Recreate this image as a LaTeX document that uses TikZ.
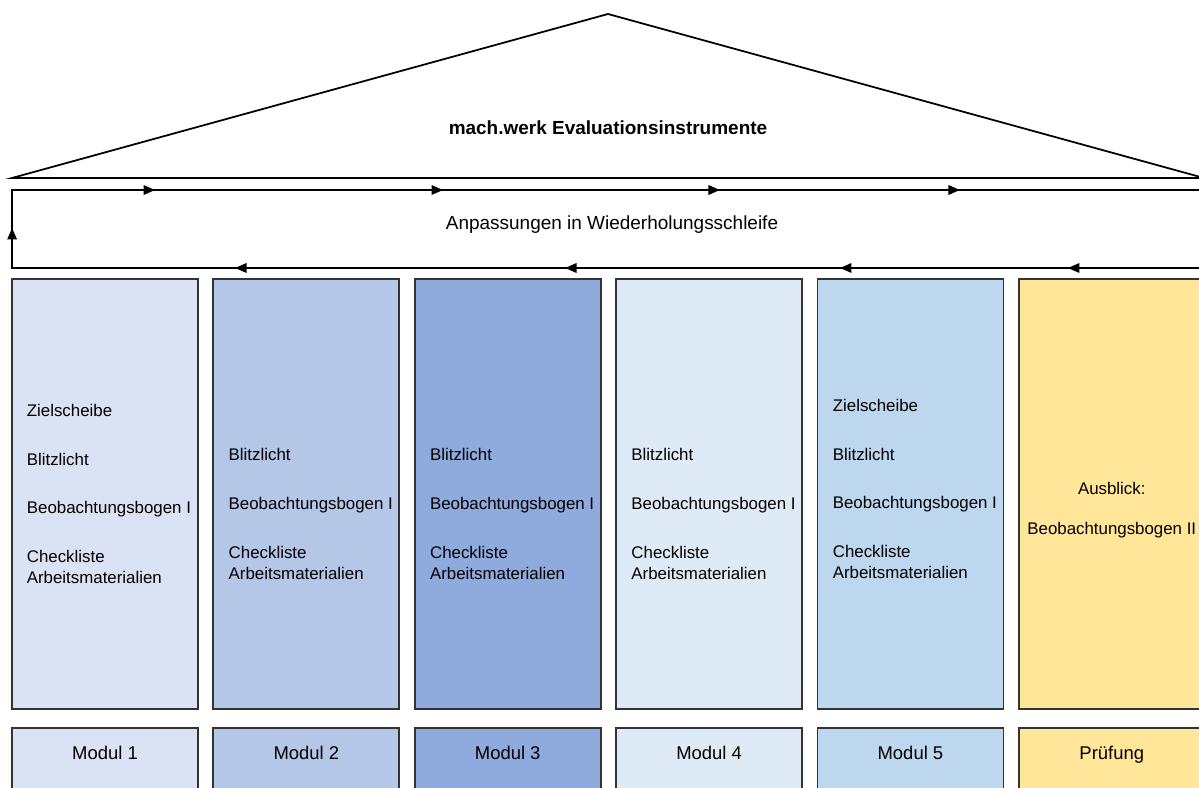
\documentclass[tikz,border=0pt]{standalone}
\usepackage{fontspec}
\setmainfont{Liberation Sans}
\usetikzlibrary{arrows.meta,positioning,decorations.markings}

\definecolor{modA}{HTML}{DAE3F3}
\definecolor{modB}{HTML}{B4C7E7}
\definecolor{modC}{HTML}{8FAADC}
\definecolor{modD}{HTML}{DEEBF7}
\definecolor{modE}{HTML}{BDD7EE}
\definecolor{exam}{HTML}{FFE699}

\tikzset{
  pillar/.style={draw=black!80, line width=1pt, outer sep=0pt, inner sep=0pt,
    minimum width=3.72cm, minimum height=8.6cm},
  footbox/.style={draw=black!80, line width=1pt, outer sep=0pt, inner sep=0pt,
    minimum width=3.72cm, minimum height=1.4cm},
  entry/.style={align=left, inner sep=0pt, font=\fontsize{9.6}{11.9}\selectfont},
  modname/.style={inner sep=0pt, text height=7.6pt, text depth=0pt,
    font=\fontsize{10.5}{12.6}\selectfont},
  looptip/.tip={Triangle[length=0.23cm, width=0.19cm]}
}

\begin{document}
\begin{tikzpicture}[x=0.02cm, y=-0.02cm, line width=1pt]
  \useasboundingbox (0,0) rectangle (1199,787);

  % roof
  \coordinate (eaveL) at (12,178);
  \coordinate (ridge) at (608,14);
  \coordinate (eaveR) at (1204,178);
  \draw (eaveL) -- (ridge) -- (eaveR) -- cycle;
  \node[font=\bfseries\fontsize{10.8}{13}\selectfont] (title) at (608,128) {mach.werk Evaluationsinstrumente};

  % loop
  \node[draw, outer sep=0pt, minimum width=24cm, minimum height=1.56cm, text depth=0.24cm,
    font=\fontsize{10.8}{13}\selectfont] (loop) at (612,229) {Anpassungen in Wiederholungsschleife};
  \path[postaction={decorate}, decoration={markings,
      mark=at position 2.88cm with {\arrow{looptip}},
      mark=at position 7.44cm with {\arrow{looptip}},
      mark=at position 12.94cm with {\arrow{looptip}},
      mark=at position 19.54cm with {\arrow{looptip}},
      mark=at position 24.8cm with {\arrow{looptip}},
      mark=at position 28.42cm with {\arrow{looptip}},
      mark=at position 34.18cm with {\arrow{looptip}},
      mark=at position 39.72cm with {\arrow{looptip}},
      mark=at position 44.52cm with {\arrow{looptip}}}]
    (loop.south east) -- (loop.south west) -- (loop.north west) -- (loop.north east);

  % pillars
  \node[pillar, fill=modA, anchor=north west] (p1) at (12,279) {};
  \node[pillar, fill=modB, right=0.308cm of p1] (p2) {};
  \node[pillar, fill=modC, right=0.308cm of p2] (p3) {};
  \node[pillar, fill=modD, right=0.308cm of p3] (p4) {};
  \node[pillar, fill=modE, right=0.308cm of p4] (p5) {};
  \node[pillar, fill=exam, right=0.308cm of p5] (p6) {};

  \node[entry, anchor=west] (t1) at ([xshift=0.28cm]p1.west)
    {Zielscheibe\\[15.9pt]Blitzlicht\\[15.9pt]Beobachtungsbogen I\\[15.9pt]Checkliste\\Arbeitsmaterialien};
  \node[entry, anchor=west] (t2) at ([xshift=0.29cm, yshift=-0.4cm]p2.west)
    {Blitzlicht\\[15.9pt]Beobachtungsbogen I\\[15.9pt]Checkliste\\Arbeitsmaterialien};
  \node[entry, anchor=west] (t3) at ([xshift=0.29cm, yshift=-0.4cm]p3.west)
    {Blitzlicht\\[15.9pt]Beobachtungsbogen I\\[15.9pt]Checkliste\\Arbeitsmaterialien};
  \node[entry, anchor=west] (t4) at ([xshift=0.29cm, yshift=-0.4cm]p4.west)
    {Blitzlicht\\[15.9pt]Beobachtungsbogen I\\[15.9pt]Checkliste\\Arbeitsmaterialien};
  \node[entry, anchor=west] (t5) at ([xshift=0.29cm, yshift=0.1cm]p5.west)
    {Zielscheibe\\[15.9pt]Blitzlicht\\[15.9pt]Beobachtungsbogen I\\[15.9pt]Checkliste\\Arbeitsmaterialien};
  \node[entry, align=center] (t6) at ([yshift=-0.32cm]p6.center)
    {Ausblick:\\[10.8pt]Beobachtungsbogen II};

  % modules
  \node[footbox, fill=modA, anchor=north west] (m1) at (12,728) {};
  \node[footbox, fill=modB, right=0.308cm of m1] (m2) {};
  \node[footbox, fill=modC, right=0.308cm of m2] (m3) {};
  \node[footbox, fill=modD, right=0.308cm of m3] (m4) {};
  \node[footbox, fill=modE, right=0.308cm of m4] (m5) {};
  \node[footbox, fill=exam, right=0.308cm of m5] (m6) {};

  \node[modname] (n1) at ([yshift=-0.5cm]m1.north) {Modul 1};
  \node[modname] (n2) at ([yshift=-0.5cm]m2.north) {Modul 2};
  \node[modname] (n3) at ([yshift=-0.5cm]m3.north) {Modul 3};
  \node[modname] (n4) at ([yshift=-0.5cm]m4.north) {Modul 4};
  \node[modname] (n5) at ([yshift=-0.5cm]m5.north) {Modul 5};
  \node[modname] (n6) at ([yshift=-0.5cm]m6.north) {Prüfung};
\end{tikzpicture}
\end{document}
